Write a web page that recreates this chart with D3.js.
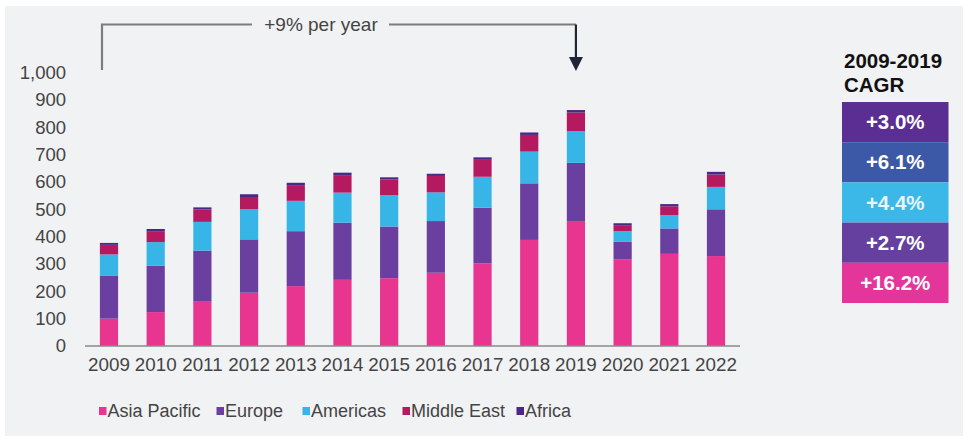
<!DOCTYPE html>
<html>
<head>
<meta charset="utf-8">
<script src="https://cdn.jsdelivr.net/npm/d3@7/dist/d3.min.js"></script>
<style>
  html, body { margin: 0; padding: 0; background: #ffffff; }
  svg { display: block; font-family: "Liberation Sans", Arial, Helvetica, sans-serif; }
</style>
</head>
<body>
<svg id="chart" width="969" height="442"></svg>
<script>
// Stacked regional totals per year
const years = ["2009","2010","2011","2012","2013","2014","2015","2016","2017","2018","2019","2020","2021","2022"];
const asiaPacific = [100,124,162,195,219,242,248,268,302,388,457,316,337,329];
const europe      = [158,170,187,195,201,209,189,189,204,207,213,65,93,171];
const americas    = [77,86,105,110,111,110,115,105,113,116,116,39,49,82];
const middleEast  = [35,40,45,45,55,64,57,60,62,61,68,22,32,45];
const africa      = [7,8,8,10,11,9,8,8,9,9,9,7,8,10];

const seriesNames = ["Asia Pacific","Europe","Americas","Middle East","Africa"];
const seriesColors = ["#e8358f","#6a3fa0","#36b5e6","#b5195f","#4a2886"];

const yTicks = [0,100,200,300,400,500,600,700,800,900,1000];

const growthLabel = "+9% per year";
const cagrTitle = ["2009-2019","CAGR"];
const cagrValues = ["+3.0%","+6.1%","+4.4%","+2.7%","+16.2%"];
const cagrColors = ["#5a2e93","#3b59a7","#3cb8e8","#65409f","#e4369a"];

const svg = d3.select("#chart");

// panel background
svg.append("rect").attr("x",5).attr("y",6).attr("width",958).attr("height",430).attr("fill","#f1f2f3");

const rows = years.map((yr,i) => ({
  year: yr,
  "Asia Pacific": asiaPacific[i],
  "Europe": europe[i],
  "Americas": americas[i],
  "Middle East": middleEast[i],
  "Africa": africa[i]
}));

const x = d3.scaleBand().domain(years).range([85.65, 739.35]).paddingInner(0.61).paddingOuter(0.305);
const y = d3.scaleLinear().domain([0,1000]).range([346, 72.6]);
const color = d3.scaleOrdinal().domain(seriesNames).range(seriesColors);

const stacked = d3.stack().keys(seriesNames)(rows);

svg.append("g").selectAll("g").data(stacked).join("g")
  .attr("fill", d => color(d.key))
  .selectAll("rect").data(d => d).join("rect")
  .attr("x", d => x(d.data.year))
  .attr("width", x.bandwidth())
  .attr("y", d => y(d[1]))
  .attr("height", d => y(d[0]) - y(d[1]));

// baseline
svg.append("line").attr("x1",85).attr("x2",740).attr("y1",y(0)).attr("y2",y(0))
  .attr("stroke","#8a8a8a").attr("stroke-width",1.5);

// y labels
const yAxis = d3.axisLeft(y).tickValues(yTicks).tickSize(0).tickPadding(0).tickFormat(d3.format(","));
const gy = svg.append("g").attr("transform","translate(66,0)").call(yAxis);
gy.select(".domain").remove();
gy.selectAll("text").attr("font-size",18.5).attr("fill","#444").attr("font-family","Liberation Sans, Arial, sans-serif");

// x labels
const xAxis = d3.axisBottom(x).tickSize(0).tickPadding(0);
const gx = svg.append("g").attr("transform","translate(0,358)").call(xAxis);
gx.select(".domain").remove();
gx.selectAll("text").attr("font-size",18.8).attr("fill","#444").attr("font-family","Liberation Sans, Arial, sans-serif");

// growth bracket
const bx0 = 102, bx1 = x("2019") + x.bandwidth()/2, by = 24.5;
svg.append("path").attr("d",`M${bx0},70 V${by} H252`).attr("fill","none").attr("stroke","#7d7d7d").attr("stroke-width",2.2);
svg.append("path").attr("d",`M389,${by} H${bx1}`).attr("fill","none").attr("stroke","#7d7d7d").attr("stroke-width",2.2);
svg.append("line").attr("x1",bx1).attr("x2",bx1).attr("y1",by).attr("y2",60)
  .attr("stroke","#1e2536").attr("stroke-width",2.2);
svg.append("path").attr("d",`M${bx1-7},57 L${bx1+7},57 L${bx1},71 Z`).attr("fill","#1e2536");
svg.append("text").attr("x",321).attr("y",by).attr("dy","0.35em").attr("text-anchor","middle")
  .attr("font-size",19).attr("fill","#444").text(growthLabel);

// legend
const legendX = [99, 216.5, 302.5, 402.5, 516.5];
const lg = svg.append("g").selectAll("g").data(seriesNames).join("g")
  .attr("transform",(d,i)=>`translate(${legendX[i]},411)`);
lg.append("rect").attr("x",0).attr("y",-4).attr("width",7.5).attr("height",8).attr("fill",d=>color(d));
lg.append("text").attr("x",8.5).attr("dy","0.35em").attr("font-size",18).attr("fill","#444").text(d=>d);

// CAGR panel
const cx0 = 842, cw = 106.5, ct = 102, ch = 40.2;
svg.append("g").selectAll("text").data(cagrTitle).join("text")
  .attr("x", cx0 + 2).attr("y",(d,i)=>68 + i*24)
  .attr("font-size",20.5).attr("font-weight","bold").attr("fill","#111").text(d=>d);
const cg = svg.append("g").selectAll("g").data(cagrValues).join("g")
  .attr("transform",(d,i)=>`translate(${cx0},${ct + i*ch})`);
cg.append("rect").attr("width",cw).attr("height",ch).attr("fill",(d,i)=>cagrColors[i]);
cg.append("text").attr("x",cw/2).attr("y",ch/2).attr("dy","0.35em").attr("text-anchor","middle")
  .attr("font-size",20.5).attr("font-weight","bold").attr("fill",(d,i)=> i===2 ? "#e6f6fd" : "#ffffff").text(d=>d);
</script>
</body>
</html>
